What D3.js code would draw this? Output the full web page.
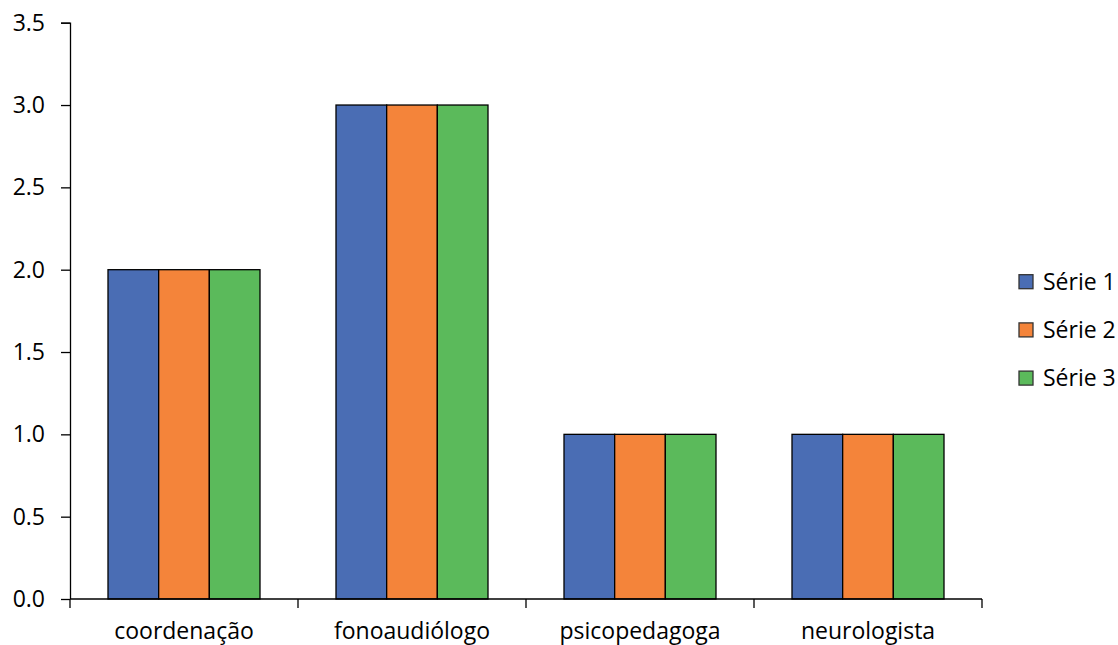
<!DOCTYPE html>
<html>
<head>
<meta charset="utf-8">
<script src="https://cdn.jsdelivr.net/npm/d3@7"></script>
<style>
  body { margin: 0; background: #fff; }
  text { font-family: "Open Sans", sans-serif; fill: #000; }
</style>
</head>
<body>
<div class="chart"></div>
<script>
var categories = ["coordenação", "fonoaudiólogo", "psicopedagoga", "neurologista"];
var seriesNames = ["Série 1", "Série 2", "Série 3"];
var serie1 = [2, 3, 1, 1];
var serie2 = [2, 3, 1, 1];
var serie3 = [2, 3, 1, 1];
var yTicks = [0, 0.5, 1, 1.5, 2, 2.5, 3, 3.5];
var colors = ["#4a6db4", "#f4843a", "#5bba5b"];

var margin = {top: 22.7, right: 136, bottom: 46, left: 70},
  width = 1118 - margin.left - margin.right,
  height = 645 - margin.top - margin.bottom;

var svg = d3.select(".chart")
.append("svg")
  .attr("width", 1118)
  .attr("height", 645)
.append("g")
  .attr("transform", "translate(" + margin.left + "," + margin.top + ")");

var allSeries = [serie1, serie2, serie3];
var data = categories.map(function(c, i) {
  return {cat: c, values: allSeries.map(function(s, j) { return {name: seriesNames[j], v: s[i]}; })};
});

var x0 = d3.scaleBand().domain(categories).range([0, width]).paddingInner(1/3).paddingOuter(1/6);
var x1 = d3.scaleBand().domain(seriesNames).range([0, x0.bandwidth()]);
var y = d3.scaleLinear().domain([0, 3.5]).range([height, 0]);
var color = d3.scaleOrdinal().domain(seriesNames).range(colors);

// bars
svg.selectAll("g.group")
  .data(data)
  .enter().append("g")
    .attr("class", "group")
    .attr("transform", function(d) { return "translate(" + x0(d.cat) + ",0)"; })
  .selectAll("rect")
  .data(function(d) { return d.values; })
  .enter().append("rect")
    .attr("x", function(d) { return x1(d.name); })
    .attr("y", function(d) { return y(d.v); })
    .attr("width", x1.bandwidth())
    .attr("height", function(d) { return height - y(d.v); })
    .style("fill", function(d) { return color(d.name); })
    .style("stroke", "#000")
    .style("stroke-width", 1.3);

// y axis
var yAxis = svg.append("g")
  .call(d3.axisLeft(y).tickValues(yTicks).tickFormat(d3.format(".1f")).tickSize(9).tickPadding(16));
yAxis.select(".domain").attr("d", "M-9,0.5H0.5V" + height);
yAxis.selectAll("text").style("font-size", "23px");
yAxis.selectAll("line, path").style("stroke", "#000").style("stroke-width", 1.3);

// x axis with ticks at band edges
var xAxis = svg.append("g").attr("transform", "translate(0," + height + ")");
xAxis.append("line").attr("x1", 0).attr("x2", width).style("stroke", "#000").style("stroke-width", 1.3);
var edges = d3.range(categories.length + 1).map(function(i) { return i * width / categories.length; });
xAxis.selectAll("line.tick")
  .data(edges)
  .enter().append("line")
    .attr("class", "tick")
    .attr("x1", function(d) { return d; })
    .attr("x2", function(d) { return d; })
    .attr("y1", 0).attr("y2", 9)
    .style("stroke", "#000").style("stroke-width", 1.3);
xAxis.selectAll("text")
  .data(categories)
  .enter().append("text")
    .attr("x", function(d) { return x0(d) + x0.bandwidth() / 2; })
    .attr("y", 40)
    .attr("text-anchor", "middle")
    .style("font-size", "23px")
    .text(function(d) { return d; });

// legend
var legend = svg.selectAll("g.legend")
  .data(seriesNames)
  .enter().append("g")
    .attr("class", "legend")
    .attr("transform", function(d, i) { return "translate(" + (1019 - margin.left) + "," + (281.7 - margin.top + i * 48.2) + ")"; });
legend.append("rect")
  .attr("x", 0).attr("y", -7)
  .attr("width", 14).attr("height", 14)
  .style("fill", function(d) { return color(d); })
  .style("stroke", "#333").style("stroke-width", 1.3);
legend.append("text")
  .attr("x", 24).attr("y", 8)
  .style("font-size", "23px")
  .text(function(d) { return d; });
</script>
</body>
</html>
